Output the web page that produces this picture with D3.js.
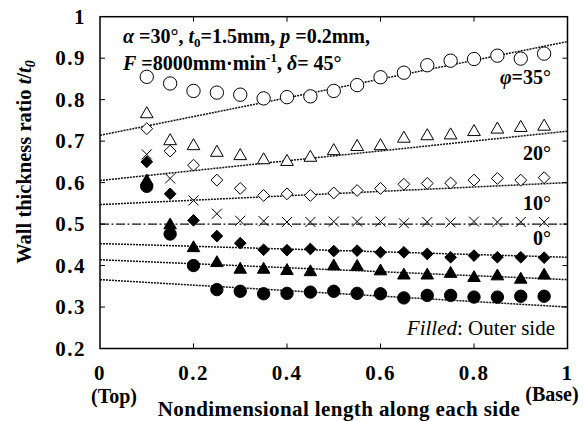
<!DOCTYPE html>
<html lang="en">
<head>
<meta charset="UTF-8">
<title>Wall thickness ratio</title>
<script src="https://d3js.org/d3.v7.min.js"></script>
<style>
  body { margin: 0; background: #fff; }
  text { font-family: "Liberation Serif", "Times New Roman", serif; fill: #000; }
  .bold { font-weight: bold; }
</style>
</head>
<body>
<script>
// measured positions along the side (x) and thickness ratios (y)
var positions = [0.10, 0.15, 0.20, 0.25, 0.30, 0.35, 0.40, 0.45, 0.50, 0.55, 0.60, 0.65, 0.70, 0.75, 0.80, 0.85, 0.90, 0.95];

var inner35 = [0.855, 0.839, 0.821, 0.817, 0.812, 0.803, 0.806, 0.808, 0.821, 0.835, 0.854, 0.865, 0.883, 0.894, 0.898, 0.906, 0.899, 0.911];
var inner20 = [0.767, 0.702, 0.690, 0.674, 0.666, 0.656, 0.652, 0.662, 0.678, 0.688, 0.690, 0.708, 0.714, 0.716, 0.724, 0.730, 0.734, 0.737];
var inner10 = [0.730, 0.676, 0.642, 0.606, 0.586, 0.569, 0.573, 0.569, 0.575, 0.581, 0.586, 0.596, 0.598, 0.599, 0.606, 0.610, 0.606, 0.612];
var both0   = [0.668, 0.610, 0.557, 0.525, 0.508, 0.507, 0.505, 0.505, 0.506, 0.506, 0.506, 0.502, 0.505, 0.504, 0.506, 0.505, 0.505, 0.505];
var outer10 = [0.650, 0.573, 0.509, 0.471, 0.454, 0.438, 0.437, 0.440, 0.435, 0.436, 0.432, 0.432, 0.428, 0.420, 0.424, 0.420, 0.420, 0.419];
var outer20 = [0.605, 0.499, 0.444, 0.408, 0.392, 0.392, 0.389, 0.386, 0.400, 0.399, 0.388, 0.378, 0.378, 0.382, 0.372, 0.376, 0.368, 0.378];
var outer35 = [0.591, 0.476, 0.400, 0.342, 0.338, 0.332, 0.333, 0.336, 0.338, 0.333, 0.332, 0.322, 0.328, 0.328, 0.324, 0.324, 0.326, 0.326];

// fitted lines, value at x=0 and x=1
var fitEnds = [0, 1];
var fitInner35 = [0.714, 0.940];
var fitInner20 = [0.605, 0.724];
var fitInner10 = [0.547, 0.600];
var fitZero    = [0.500, 0.500];
var fitOuter10 = [0.453, 0.420];
var fitOuter20 = [0.414, 0.366];
var fitOuter35 = [0.366, 0.300];

var xTicks = [0, 0.2, 0.4, 0.6, 0.8, 1];
var yTicks = [0.2, 0.3, 0.4, 0.5, 0.6, 0.7, 0.8, 0.9, 1];

var width = 586, height = 421;
var pL = 100, pR = 567.5, pT = 16.7, pB = 348.5;

var svg = d3.select("body").append("svg")
    .attr("width", width)
    .attr("height", height);

var x = d3.scaleLinear().domain([0, 1]).range([pL, pR]);
var y = d3.scaleLinear().domain([0.2, 1]).range([pB, pT]);

// custom marker shapes
var diamond = {
  draw: function(ctx, size) {
    var r = Math.sqrt(size / 2);
    ctx.moveTo(0, -r); ctx.lineTo(r, 0); ctx.lineTo(0, r); ctx.lineTo(-r, 0); ctx.closePath();
  }
};
var triangle = {
  draw: function(ctx, size) {
    var s = Math.sqrt(size / 0.433), h = s * 0.866;
    ctx.moveTo(0, -h * 0.6); ctx.lineTo(s / 2, h * 0.4); ctx.lineTo(-s / 2, h * 0.4); ctx.closePath();
  }
};
var cross = {
  draw: function(ctx, size) {
    var r = Math.sqrt(size) / 2;
    ctx.moveTo(-r, -r); ctx.lineTo(r, r); ctx.moveTo(r, -r); ctx.lineTo(-r, r);
  }
};

// fitted lines
var line = d3.line().x(function(d) { return x(d[0]); }).y(function(d) { return y(d[1]); });
var fits = [fitInner35, fitInner20, fitInner10, fitOuter10, fitOuter20, fitOuter35];
svg.append("g").selectAll("path").data(fits).enter().append("path")
    .attr("d", function(f) { return line(d3.zip(fitEnds, f)); })
    .attr("fill", "none").attr("stroke", "#111")
    .attr("stroke-width", 1.5).attr("stroke-dasharray", "2,1");
svg.append("path")
    .attr("d", line(d3.zip(fitEnds, fitZero)))
    .attr("fill", "none").attr("stroke", "#111")
    .attr("stroke-width", 1.3).attr("stroke-dasharray", "9,2.5,2,2.5");

// markers
var series = [
  {vals: inner35, type: d3.symbolCircle, size: 140, fill: "#fff"},
  {vals: inner20, type: triangle, size: 70, fill: "#fff"},
  {vals: inner10, type: diamond, size: 70, fill: "#fff"},
  {vals: both0, type: cross, size: 100, fill: "none"},
  {vals: outer10, type: diamond, size: 68, fill: "#000"},
  {vals: outer20, type: triangle, size: 68, fill: "#000"},
  {vals: outer35, type: d3.symbolCircle, size: 120, fill: "#000"}
];

series.forEach(function(s) {
  var sym = d3.symbol().type(s.type).size(s.size);
  svg.append("g").selectAll("path").data(d3.zip(positions, s.vals)).enter().append("path")
      .attr("transform", function(d) { return "translate(" + x(d[0]) + "," + y(d[1]) + ")"; })
      .attr("d", sym)
      .attr("fill", s.fill)
      .attr("stroke", "#000")
      .attr("stroke-width", 1);
});

// frame and inward ticks
svg.append("rect")
    .attr("x", pL).attr("y", pT)
    .attr("width", pR - pL).attr("height", pB - pT)
    .attr("fill", "none").attr("stroke", "#000").attr("stroke-width", 1.5);

var tk = 5;
var ticks = svg.append("g").attr("stroke", "#000").attr("stroke-width", 1);
xTicks.slice(1, -1).forEach(function(t) {
  ticks.append("line").attr("x1", x(t)).attr("x2", x(t)).attr("y1", pB).attr("y2", pB - tk);
  ticks.append("line").attr("x1", x(t)).attr("x2", x(t)).attr("y1", pT).attr("y2", pT + tk);
});
yTicks.slice(1, -1).forEach(function(t) {
  ticks.append("line").attr("x1", pL).attr("x2", pL + tk).attr("y1", y(t)).attr("y2", y(t));
  ticks.append("line").attr("x1", pR).attr("x2", pR - tk).attr("y1", y(t)).attr("y2", y(t));
});

// tick labels
svg.append("g").selectAll("text").data(yTicks).enter().append("text")
    .attr("class", "bold")
    .attr("x", 86).attr("y", function(d) { return y(d) + 7; })
    .attr("text-anchor", "end").attr("font-size", 21).attr("letter-spacing", 1.5)
    .text(function(d) { return d3.format("")(d); });
svg.append("g").selectAll("text").data(xTicks).enter().append("text")
    .attr("class", "bold")
    .attr("x", function(d) { return x(d); }).attr("y", 380)
    .attr("text-anchor", "middle").attr("font-size", 21).attr("letter-spacing", 1.5)
    .text(function(d) { return d3.format("")(d); });

svg.append("text").attr("class", "bold").attr("x", 114).attr("y", 403)
    .attr("text-anchor", "middle").attr("font-size", 20).text("(Top)");
svg.append("text").attr("class", "bold").attr("x", 552).attr("y", 401)
    .attr("text-anchor", "middle").attr("font-size", 20).text("(Base)");
svg.append("text").attr("class", "bold").attr("x", 339).attr("y", 416)
    .attr("text-anchor", "middle").attr("font-size", 21).attr("letter-spacing", 0.4)
    .text("Nondimensional length along each side");

// y axis title
var yl = svg.append("text").attr("class", "bold")
    .attr("transform", "translate(31,162) rotate(-90)")
    .attr("text-anchor", "middle").attr("font-size", 20.5);
yl.append("tspan").text("Wall thickness ratio  ");
yl.append("tspan").attr("font-style", "italic").text("t");
yl.append("tspan").text("/");
yl.append("tspan").attr("font-style", "italic").text("t");
yl.append("tspan").attr("font-style", "italic").attr("font-size", 14).attr("dy", 4).text("0");

// condition note
var n1 = svg.append("text").attr("class", "bold").attr("x", 123).attr("y", 43).attr("font-size", 20);
n1.append("tspan").attr("font-style", "italic").text("α");
n1.append("tspan").text(" =30°, ");
n1.append("tspan").attr("font-style", "italic").text("t");
n1.append("tspan").attr("font-size", 13).attr("dy", 4).text("0");
n1.append("tspan").attr("dy", -4).text("=1.5mm, ");
n1.append("tspan").attr("font-style", "italic").text("p");
n1.append("tspan").text(" =0.2mm,");

var n2 = svg.append("text").attr("class", "bold").attr("x", 123).attr("y", 70).attr("font-size", 20);
n2.append("tspan").attr("font-style", "italic").text("F");
n2.append("tspan").text(" =8000mm·min");
n2.append("tspan").attr("font-size", 13).attr("dy", -8).text("-1");
n2.append("tspan").attr("dy", 8).text(", ");
n2.append("tspan").attr("font-style", "italic").text("δ");
n2.append("tspan").text("= 45°");

// angle labels (baseline given in data units)
var angleLabels = [["φ=35°", 0.838], ["20°", 0.655], ["10°", 0.534], ["0°", 0.450]];
svg.append("g").selectAll("text").data(angleLabels).enter().append("text")
    .attr("class", "bold")
    .attr("x", 551).attr("y", function(d) { return y(d[1]); })
    .attr("text-anchor", "end").attr("font-size", 20)
    .each(function(d) {
      var t = d3.select(this);
      if (d[0].charAt(0) === "φ") {
        t.append("tspan").attr("font-style", "italic").text("φ");
        t.append("tspan").text(d[0].slice(1));
      } else {
        t.text(d[0]);
      }
    });

var fl = svg.append("text").attr("x", 555).attr("y", 335)
    .attr("text-anchor", "end").attr("font-size", 21);
fl.append("tspan").attr("font-style", "italic").text("Filled");
fl.append("tspan").text(": Outer side");
</script>
</body>
</html>
